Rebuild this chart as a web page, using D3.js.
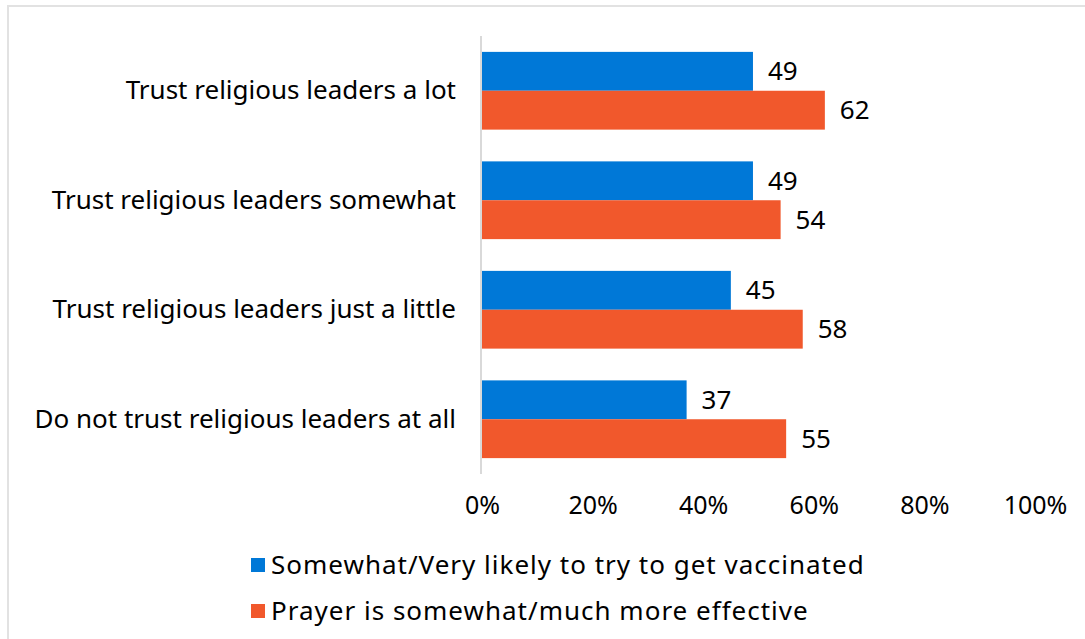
<!DOCTYPE html>
<html>
<head>
<meta charset="utf-8">
<script src="https://cdn.jsdelivr.net/npm/d3@7"></script>
<style>
  body { margin: 0; background: #fff; }
  svg { display: block; font-family: "Noto Sans", sans-serif; }
</style>
</head>
<body>
<div id="chart"></div>
<script>
const categories = [
  "Trust religious leaders a lot",
  "Trust religious leaders somewhat",
  "Trust religious leaders just a little",
  "Do not trust religious leaders at all"
];
const seriesNames = [
  "Somewhat/Very likely to try to get vaccinated",
  "Prayer is somewhat/much more effective"
];
const vaccinated = [49, 49, 45, 37];
const prayer = [62, 54, 58, 55];
const xTicks = [0, 20, 40, 60, 80, 100];
const colors = ["#0078d7", "#f1582c"];

const width = 1085, height = 639;
const margin = { top: 36, right: 50, bottom: 165, left: 482 };
const fontFamily = "Noto Sans, sans-serif";
const fontSize = 26;

const svg = d3.select("#chart").append("svg")
  .attr("width", width)
  .attr("height", height);

// frame (only top and left edges visible)
svg.append("path")
  .attr("d", `M8,${height} L8,6 L${width},6`)
  .attr("fill", "none")
  .attr("stroke", "#e2e2e2")
  .attr("stroke-width", 2);

const x = d3.scaleLinear().domain([0, 100]).range([margin.left, 1035]);
const y = d3.scaleBand().domain(categories).range([margin.top, height - margin.bottom]).paddingInner(0.29).paddingOuter(0.145);
const inner = d3.scaleBand().domain([0, 1]).range([0, y.bandwidth()]);

const data = categories.map((c, i) => ({ cat: c, values: [vaccinated[i], prayer[i]] }));

const g = svg.append("g");

const groups = g.selectAll(".grp").data(data).join("g")
  .attr("class", "grp")
  .attr("transform", d => `translate(0,${y(d.cat)})`);

groups.selectAll("rect").data(d => d.values).join("rect")
  .attr("x", x(0))
  .attr("y", (d, i) => inner(i))
  .attr("width", d => x(d) - x(0))
  .attr("height", inner.bandwidth())
  .attr("fill", (d, i) => colors[i]);

groups.selectAll("text.val").data(d => d.values).join("text")
  .attr("class", "val")
  .attr("x", d => x(d) + 15)
  .attr("y", (d, i) => inner(i) + inner.bandwidth() / 2)
  .attr("dy", "0.35em")
  .attr("font-size", fontSize)
  .attr("fill", "#000")
  .text(d => d);

// category axis
const yAxis = d3.axisLeft(y).tickSize(0).tickPadding(25);
const ya = g.append("g")
  .attr("transform", `translate(${x(0) - 1},0)`)
  .call(yAxis);
ya.select(".domain")
  .attr("d", `M0,${margin.top}V${y(categories[3]) + y.bandwidth() + 16}`)
  .attr("stroke", "#d9d9d9")
  .attr("stroke-width", 2);
ya.selectAll(".tick text")
  .attr("font-size", fontSize)
  .attr("font-family", fontFamily)
  .attr("fill", "#000");

// value axis
const xAxis = d3.axisBottom(x).tickValues(xTicks).tickFormat(d => d + "%").tickSize(0).tickPadding(0);
const xa = g.append("g")
  .attr("transform", `translate(0,496)`)
  .call(xAxis);
xa.select(".domain").remove();
xa.selectAll(".tick text")
  .attr("font-size", 25)
  .attr("font-family", fontFamily)
  .attr("fill", "#000");

// legend
const legend = svg.append("g").attr("transform", "translate(251,0)");
const items = legend.selectAll("g").data(seriesNames).join("g")
  .attr("transform", (d, i) => `translate(0,${565 + i * 46})`);
items.append("rect")
  .attr("x", 0).attr("y", -7)
  .attr("width", 14).attr("height", 14)
  .attr("fill", (d, i) => colors[i]);
items.append("text")
  .attr("x", 20)
  .attr("dy", "0.35em")
  .attr("font-size", fontSize)
  .attr("letter-spacing", 1)
  .attr("fill", "#000")
  .text(d => d);
</script>
</body>
</html>
